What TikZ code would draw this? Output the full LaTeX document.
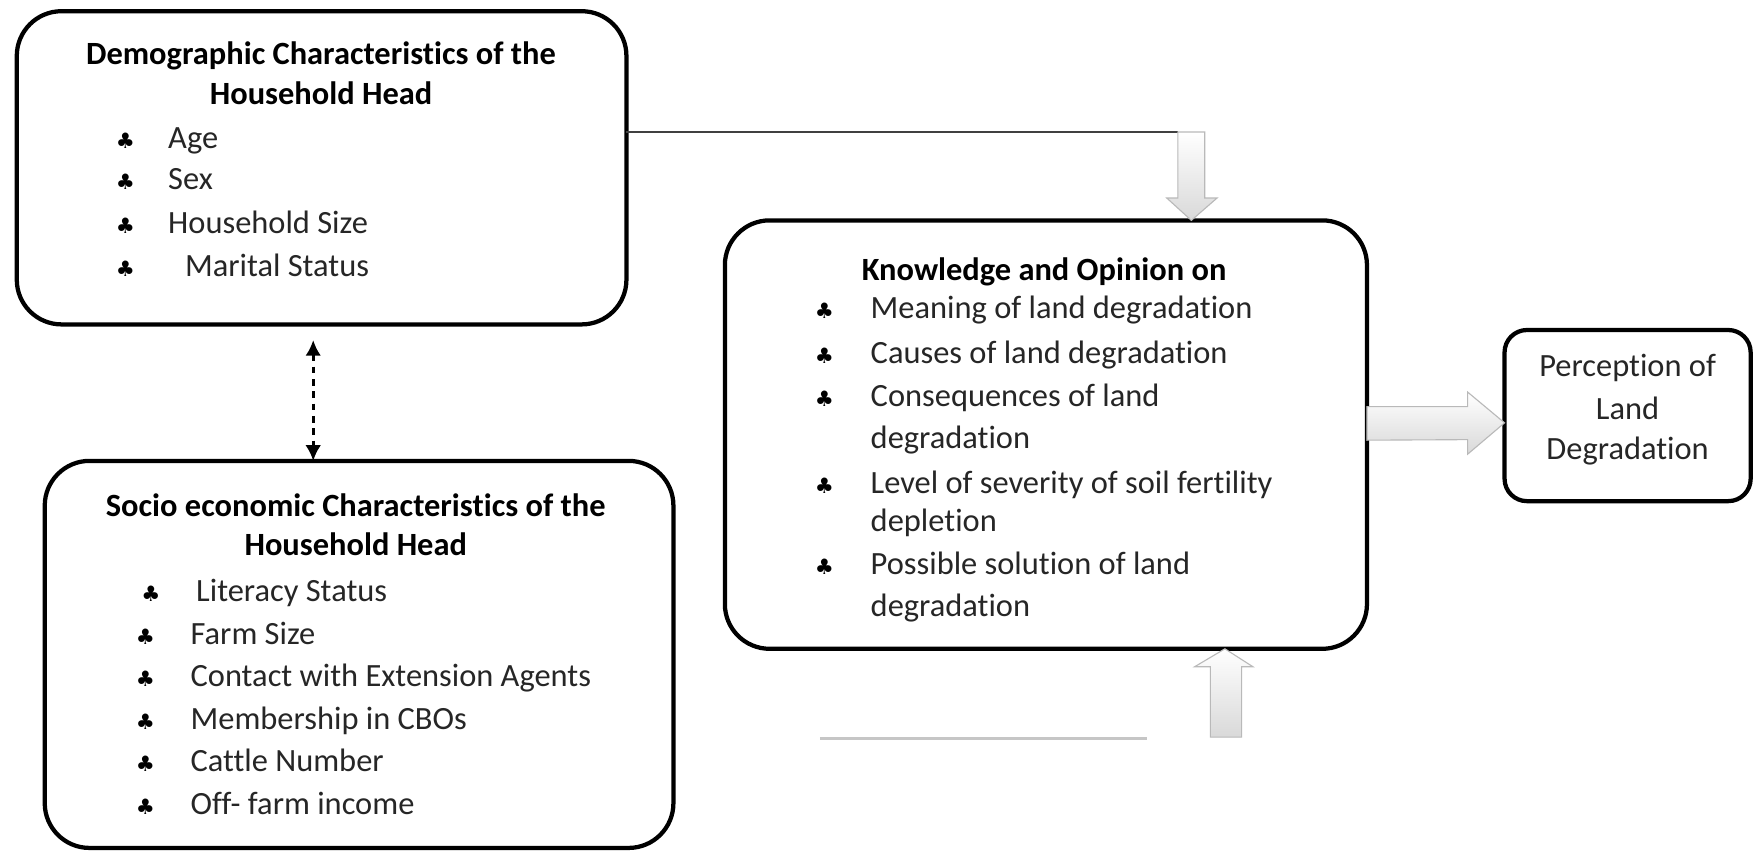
\documentclass[tikz,border=0pt]{standalone}
\usepackage{fontspec}
\setmainfont{Carlito}[Ligatures=NoCommon]
\newfontfamily\symfont{DejaVu Sans}
\usetikzlibrary{calc,arrows.meta}
\begin{document}
\begin{tikzpicture}[x=0.5pt,y=-0.5pt,
  box/.style={draw=black, line width=1.9pt, rounded corners=20pt, inner sep=0pt, outer sep=0pt, fill=white},
  ttl/.style={font=\fontsize{14.5}{17}\selectfont\bfseries, anchor=base, inner sep=0pt},
  ttlw/.style={font=\fontsize{14.5}{17}\selectfont\bfseries, anchor=base west, inner sep=0pt},
  itm/.style={font=\fontsize{14.5}{17}\selectfont, text=black!85, anchor=base west, inner sep=0pt},
  ctr/.style={font=\fontsize{14.5}{17}\selectfont, text=black!85, anchor=base, inner sep=0pt},
  bul/.style={font=\symfont\fontsize{9.5}{9.5}\selectfont, anchor=base, inner sep=0pt},
  blockarrow/.style={draw=gray!55, line width=0.5pt, top color=white, bottom color=gray!30},
  thinline/.style={draw=black!75, line width=0.6pt},
  fadeline/.style={draw=gray!45, line width=1.2pt},
  dblarrow/.style={line width=1.2pt, dash pattern=on 3pt off 2.5pt, {Latex[length=7pt,width=7pt]}-{Latex[length=7pt,width=7pt]}}
]
\useasboundingbox (0,0) rectangle (1568,762);
\fill[white] (0,0) rectangle (1568,762);

% boxes
\node[box, minimum width=272.5pt, minimum height=140pt] (demo) at (287.5,150) {};
\node[box, minimum width=281pt, minimum height=173pt] (socio) at (321,585) {};
\node[box, minimum width=287pt, minimum height=191.5pt] (know) at (935,388.5) {};
\node[box, rounded corners=10pt, minimum width=110pt, minimum height=76.5pt] (perc) at (1455,371.5) {};

% demographic box text
\node[ttl] (demo-t1) at (287,58) {Demographic Characteristics of the};
\node[ttl] (demo-t2) at (287,93) {Household Head};
\foreach \yy/\xx/\tx [count=\i] in {133/150/Age, 169/150/Sex, 209/150/Household Size, 247/165/Marital Status}{
  \node[bul] (demo-b\i) at (112,\yy) {♣};
  \node[itm] (demo-i\i) at (\xx,\yy) {\tx};
}

% socio economic box text
\node[ttl] (socio-t1) at (318,462) {Socio economic Characteristics of the};
\node[ttl] (socio-t2) at (318,497) {Household Head};
\foreach \yy/\bx/\xx/\tx [count=\i] in {538/135/175/Literacy Status, 576/130/170/Farm Size, 614/130/170/Contact with Extension Agents, 652/130/170/Membership in CBOs, 690/130/170/Cattle Number, 728/130/170/Off- farm income}{
  \node[bul] (socio-b\i) at (\bx,\yy) {♣};
  \node[itm] (socio-i\i) at (\xx,\yy) {\tx};
}

% knowledge box text
\node[ttlw] (know-t) at (770,251) {Knowledge and Opinion on};
\foreach \yy/\tx [count=\i] in {285/Meaning of land degradation, 325/Causes of land degradation, 363/Consequences of land, 441/Level of severity of soil fertility, 514/Possible solution of land}{
  \node[bul] (know-b\i) at (737,\yy) {♣};
  \node[itm] (know-i\i) at (778,\yy) {\tx};
}
\node[itm] (know-c1) at (778,401) {degradation};
\node[itm] (know-c2) at (778,475) {depletion};
\node[itm] (know-c3) at (778,551) {degradation};

% perception box text
\node[ctr] (perc-1) at (1455,337) {Perception of};
\node[ctr] (perc-2) at (1455,375) {Land};
\node[ctr] (perc-3) at (1455,411) {Degradation};

% connectors
\coordinate (dl) at ($(demo.east)+(0,-32)$);
\draw[thinline] (dl) -- (dl -| 1053,0);
\path[blockarrow] (1053,118) -- (1053,177) -- (1043,177) -- (know.north -| 1065,0) -- (1088,177) -- (1077,177) -- (1077,118) -- cycle;

\path[blockarrow] ($(know.east)+(0,-25)$) -- ++(90,0) -- ++(0,-13) -- (perc.west |- 0,378) -- (1312,406) -- (1312,393) -- ($(know.east)+(0,5)$) -- cycle;

\path[blockarrow] (1082,659) -- (1082,596) -- (1068,596) -- (know.south -| 1095,0) -- (1120,596) -- (1110,596) -- (1110,659) -- cycle;
\coordinate (fl1) at (733,660);
\coordinate (fl2) at (1025,660);
\draw[fadeline] (fl1) -- (fl2);

\draw[dblarrow] ($(demo.south)+(-7.5,14)$) -- ($(socio.north)+(-41,0)$);
\end{tikzpicture}
\end{document}
